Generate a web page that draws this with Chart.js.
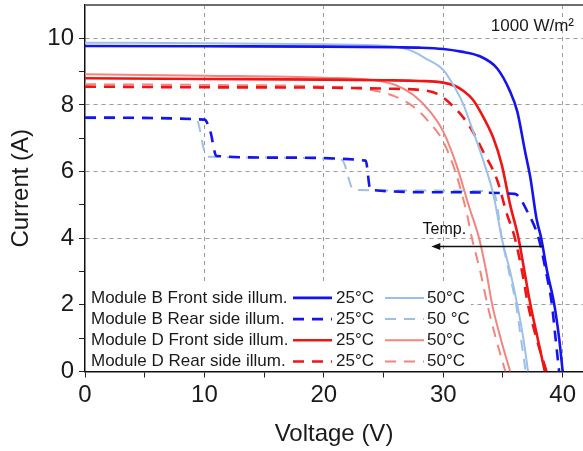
<!DOCTYPE html>
<html>
<head>
<meta charset="utf-8">
<script src="https://cdn.jsdelivr.net/npm/chart.js@4.4.1/dist/chart.umd.min.js"></script>
<style>
  html, body { margin: 0; padding: 0; background: #fff; }
</style>
</head>
<body>
<canvas id="chart" width="583" height="451"></canvas>
<script>
// I-V curves (voltage in V, current in A)
const bFront25V = [0, 10, 20, 26, 28, 30, 31.5, 33, 34.5, 35.6, 36.2, 36.85, 37.3, 37.8, 38.2, 38.7, 39.3, 39.7, 40.0];
const bFront25I = [9.77, 9.76, 9.75, 9.73, 9.72, 9.68, 9.6, 9.47, 9.1, 8.4, 7.8, 6.6, 5.8, 4.6, 4.0, 3.0, 2.0, 1.0, 0];
const bFront50V = [0, 10, 20, 25, 26.5, 27.5, 28.5, 30, 31, 31.7, 32.5, 33.1, 34.2, 34.9, 35.6, 36.2, 36.7, 37.1];
const bFront50I = [9.87, 9.85, 9.82, 9.78, 9.72, 9.6, 9.4, 9.05, 8.5, 8.0, 7.2, 6.6, 5.3, 4.0, 3.0, 2.0, 1.0, 0];
const bRear25V = [0, 10.0, 10.5, 11.0, 16, 23.5, 23.9, 30, 36, 37.1, 38.0, 38.6, 39.1, 39.4, 39.7];
const bRear25I = [7.62, 7.56, 7.2, 6.47, 6.42, 6.33, 5.45, 5.38, 5.33, 4.76, 3.98, 3.0, 2.0, 1.0, 0];
const bRear50V = [0, 9.3, 10.2, 15, 21.5, 22.5, 28, 33, 34.3, 34.9, 35.5, 36.1, 36.5, 36.9];
const bRear50I = [7.6, 7.58, 6.45, 6.42, 6.35, 5.45, 5.43, 5.42, 5.3, 4.0, 3.0, 2.0, 1.0, 0];
const dFront25V = [0, 10, 20, 25, 28, 30, 31, 31.7, 32.5, 33.1, 34.2, 34.9, 35.6, 36.3, 36.8, 37.3, 37.9, 38.5];
const dFront25I = [8.8, 8.78, 8.76, 8.74, 8.72, 8.67, 8.57, 8.42, 8.15, 7.8, 7.0, 6.2, 5.0, 4.0, 3.0, 2.0, 1.0, 0];
const dFront50V = [0, 10, 20, 24, 26, 27.5, 28.9, 30, 31.1, 32.2, 33.0, 33.6, 34.1, 34.8, 35.6];
const dFront50I = [8.92, 8.88, 8.82, 8.75, 8.6, 8.3, 7.8, 7.2, 6.2, 4.9, 4.0, 3.0, 2.0, 1.0, 0];
const dRear25V = [0, 10, 20, 25, 28, 29.5, 31.1, 32.2, 33.4, 34.5, 35.3, 36.0, 36.6, 37.1, 37.8, 38.65];
const dRear25I = [8.55, 8.53, 8.52, 8.49, 8.45, 8.33, 7.86, 7.36, 6.56, 5.76, 4.76, 4.0, 3.0, 2.0, 1.0, 0];
const dRear50V = [0, 10, 20, 24, 26, 27.5, 28.9, 30, 31.1, 32, 32.4, 33.1, 33.7, 34.4, 35.2];
const dRear50I = [8.62, 8.6, 8.55, 8.45, 8.25, 7.95, 7.45, 6.9, 5.9, 4.7, 4.0, 3.0, 2.0, 1.0, 0];

const legendRows = ['Module B Front side illum.', 'Module B Rear side illum.', 'Module D Front side illum.', 'Module D Rear side illum.'];
const tempLabels = [['25°C', '50°C'], ['25°C', '50 °C'], ['25°C', '50°C'], ['25°C', '50°C']];

const xTicks = [0, 5, 10, 15, 20, 25, 30, 35, 40];
const yTicks = [0, 1, 2, 3, 4, 5, 6, 7, 8, 9, 10];

// temperature arrow (data units) and irradiance note
const arrowFrom = [38.4, 3.75];
const arrowTo = [29.0, 3.75];
const arrowText = 'Temp.';
const irradianceText = '1000 W/m²';

const FONT = "'Liberation Sans', Arial, sans-serif";
const DARK_BLUE = '#1414ee';
const LIGHT_BLUE = '#9cc0ea';
const RED = '#f01414';
const PINK = '#f4847e';
const DASH = [11, 8];

function pts(xs, ys) {
    return xs.map((x, i) => ({ x: x, y: ys[i] }));
}

function series(label, xs, ys, color, width, dashed) {
    return {
        label: label,
        data: pts(xs, ys),
        borderColor: color,
        backgroundColor: color,
        borderWidth: width,
        borderDash: dashed ? DASH : [],
        pointRadius: 0,
        fill: false,
        cubicInterpolationMode: 'monotone'
    };
}

const datasets = [
    series('B front 25', bFront25V, bFront25I, DARK_BLUE, 2.6, false),
    series('B front 50', bFront50V, bFront50I, LIGHT_BLUE, 2, false),
    series('B rear 25', bRear25V, bRear25I, DARK_BLUE, 2.6, true),
    series('B rear 50', bRear50V, bRear50I, LIGHT_BLUE, 2, true),
    series('D front 25', dFront25V, dFront25I, RED, 2.6, false),
    series('D front 50', dFront50V, dFront50I, PINK, 2, false),
    series('D rear 25', dRear25V, dRear25I, RED, 2.6, true),
    series('D rear 50', dRear50V, dRear50I, PINK, 2, true)
];

const extras = {
    id: 'extras',
    afterDraw(chart) {
        const { ctx, chartArea: a, scales } = chart;
        const xs = scales.x, ys = scales.y;
        ctx.save();

        // top frame
        ctx.strokeStyle = '#6e6e6e';
        ctx.lineWidth = 2;
        ctx.beginPath();
        ctx.moveTo(a.left, a.top);
        ctx.lineTo(a.right, a.top);
        ctx.stroke();

        // irradiance
        ctx.fillStyle = '#1a1a1a';
        ctx.font = '17px ' + FONT;
        ctx.textAlign = 'right';
        ctx.textBaseline = 'middle';
        ctx.fillText(irradianceText, 574, 26);

        // temperature arrow
        const x1 = xs.getPixelForValue(arrowFrom[0]), y1 = ys.getPixelForValue(arrowFrom[1]);
        const x2 = xs.getPixelForValue(arrowTo[0]), y2 = ys.getPixelForValue(arrowTo[1]);
        ctx.strokeStyle = '#111';
        ctx.lineWidth = 1.6;
        ctx.beginPath();
        ctx.moveTo(x1, y1);
        ctx.lineTo(x2 + 6, y2);
        ctx.stroke();
        ctx.fillStyle = '#111';
        ctx.beginPath();
        ctx.moveTo(x2, y2);
        ctx.lineTo(x2 + 9, y2 - 3.5);
        ctx.lineTo(x2 + 9, y2 + 3.5);
        ctx.closePath();
        ctx.fill();
        ctx.textAlign = 'center';
        ctx.font = '16px ' + FONT;
        ctx.fillText(arrowText, x2 + 13, y1 - 17);

        // legend
        ctx.fillStyle = '#fff';
        ctx.fillRect(a.left + 1, a.bottom - 88, 385, 87);
        ctx.font = '17px ' + FONT;
        ctx.textBaseline = 'middle';
        legendRows.forEach((txt, r) => {
            const y = a.bottom - 10 - 21.2 * (3 - r);
            ctx.fillStyle = '#1a1a1a';
            ctx.textAlign = 'left';
            ctx.fillText(txt, a.left + 6, y);
            [0, 1].forEach(k => {
                const ds = chart.data.datasets[r * 2 + k];
                const lx = a.left + (k === 0 ? 208 : 300);
                ctx.strokeStyle = ds.borderColor;
                ctx.lineWidth = ds.borderWidth;
                ctx.setLineDash(ds.borderDash);
                ctx.beginPath();
                ctx.moveTo(lx, y);
                ctx.lineTo(lx + 39, y);
                ctx.stroke();
                ctx.setLineDash([]);
                ctx.fillStyle = '#1a1a1a';
                ctx.fillText(tempLabels[r][k], lx + (k === 0 ? 43 : 42), y);
            });
        });
        ctx.restore();
    }
};

new Chart(document.getElementById('chart').getContext('2d'), {
    type: 'line',
    data: { datasets: datasets },
    plugins: [extras],
    options: {
        responsive: false,
        animation: false,
        layout: { padding: { top: 5, right: 0, bottom: 0, left: 0 } },
        plugins: {
            legend: { display: false },
            tooltip: { enabled: false }
        },
        scales: {
            x: {
                type: 'linear',
                min: 0,
                max: 41.7,
                afterBuildTicks: axis => { axis.ticks = xTicks.map(v => ({ value: v })); },
                afterFit: axis => { axis.height = 79.5; axis.paddingLeft = 0; axis.paddingRight = 0; },
                ticks: {
                    color: '#1a1a1a',
                    font: { family: FONT, size: 24 },
                    padding: 3,
                    maxRotation: 0,
                    autoSkip: false,
                    callback: v => (v % 10 === 0 ? v : '')
                },
                grid: {
                    color: c => (c.tick && c.tick.value % 10 === 0 && c.tick.value !== 0) ? '#9a9a9a' : 'rgba(0,0,0,0)',
                    tickColor: '#222',
                    tickLength: 6,
                    lineWidth: 1
                },
                border: { display: true, color: '#111', width: 1.5, dash: [4, 4] },
                title: {
                    display: true,
                    text: 'Voltage (V)',
                    color: '#1a1a1a',
                    font: { family: FONT, size: 24 },
                    padding: { top: 0, bottom: 2 }
                }
            },
            y: {
                type: 'linear',
                min: 0,
                max: 11,
                afterBuildTicks: axis => { axis.ticks = yTicks.map(v => ({ value: v })); },
                afterFit: axis => { axis.width = 85; axis.paddingTop = 0; axis.paddingBottom = 0; },
                ticks: {
                    color: '#1a1a1a',
                    font: { family: FONT, size: 24 },
                    padding: 5,
                    autoSkip: false,
                    callback: v => (v % 2 === 0 ? v : '')
                },
                grid: {
                    color: c => (c.tick && c.tick.value % 2 === 0 && c.tick.value !== 0) ? '#9a9a9a' : 'rgba(0,0,0,0)',
                    tickColor: '#222',
                    tickLength: 6,
                    lineWidth: 1
                },
                border: { display: true, color: '#111', width: 1.5, dash: [4, 4] },
                title: {
                    display: true,
                    text: 'Current (A)',
                    color: '#1a1a1a',
                    font: { family: FONT, size: 24 },
                    padding: { top: 7, bottom: 0 }
                }
            }
        }
    }
});
</script>
</body>
</html>
